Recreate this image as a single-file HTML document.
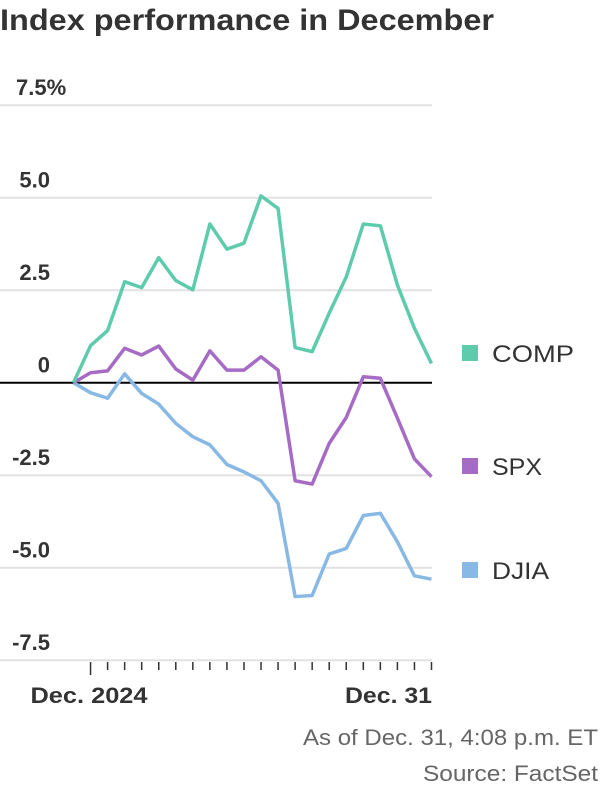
<!DOCTYPE html>
<html><head><meta charset="utf-8">
<style>
body{margin:0;background:#fff;font-family:"Liberation Sans",sans-serif;}
svg text{font-family:"Liberation Sans",sans-serif;}
</style></head>
<body>
<svg width="600" height="800">
<text x="0" y="30" font-size="30" font-weight="bold" fill="#333" textLength="494" lengthAdjust="spacingAndGlyphs">Index performance in December</text>
<g id="grid"></g>
<g id="lines"></g>
<g id="legend"></g>
<text x="89" y="703" font-size="22" font-weight="bold" fill="#333" text-anchor="middle" textLength="117" lengthAdjust="spacingAndGlyphs">Dec. 2024</text>
<text x="345" y="703" font-size="22" font-weight="bold" fill="#333" textLength="87" lengthAdjust="spacingAndGlyphs">Dec. 31</text>
<text x="303" y="745" font-size="22" fill="#666" textLength="295" lengthAdjust="spacingAndGlyphs">As of Dec. 31, 4:08 p.m. ET</text>
<text x="423" y="781" font-size="22" fill="#666" textLength="175" lengthAdjust="spacingAndGlyphs">Source: FactSet</text>
</svg>
<script>
const yTicks=[7.5,5,2.5,0,-2.5,-5,-7.5];
const yTickLabels=["7.5%","5.0","2.5","0","-2.5","-5.0","-7.5"];
const seriesNames=["COMP","SPX","DJIA"];
const comp=[0,1.0,1.41,2.73,2.57,3.38,2.76,2.51,4.29,3.61,3.77,5.05,4.71,0.95,0.84,1.88,2.86,4.29,4.24,2.64,1.47,0.52];
const spx=[0,0.27,0.32,0.93,0.75,0.99,0.37,0.07,0.86,0.34,0.34,0.70,0.34,-2.65,-2.74,-1.64,-0.94,0.16,0.12,-0.96,-2.06,-2.54];
const djia=[0,-0.27,-0.42,0.24,-0.29,-0.58,-1.10,-1.46,-1.68,-2.21,-2.41,-2.65,-3.26,-5.78,-5.75,-4.63,-4.48,-3.59,-3.53,-4.30,-5.22,-5.31];
const colors=["#5fcbad","#a66bc4","#88b9e5"];
const NS="http://www.w3.org/2000/svg";
const x0=73.5,x1=431.5,y0=382.7,pxPer=37;
const n=comp.length;
const xs=i=>x0+(x1-x0)*i/(n-1);
const ys=v=>y0-v*pxPer;
function mk(tag,attrs,parent){const e=document.createElementNS(NS,tag);for(const k in attrs)e.setAttribute(k,attrs[k]);parent.appendChild(e);return e;}
const grid=document.getElementById('grid');
yTicks.forEach((t,i)=>{
  const y=ys(t);
  const l=mk('line',{x1:0,x2:432,y1:y,y2:y,stroke:t===0?'#000':'#e2e2e2','stroke-width':2},grid);
  
  
  const attrs=t===7.5?{x:16,y:y-10}:{x:50,y:y-10,'text-anchor':'end'};
  attrs['font-size']=22;attrs['font-weight']='bold';attrs.fill='#333';
  const tx=mk('text',attrs,grid);
  tx.textContent=yTickLabels[i];
  
  
});
for(let i=1;i<n;i++){
  const tk=mk('line',{x1:xs(i),x2:xs(i),y1:662,y2:i===1?675:670,stroke:'#333','stroke-width':1.5},grid);
  
  
}
const lines=document.getElementById('lines');
[djia,spx,comp].forEach((arr,k)=>{
  const idx=2-k;
  const p=mk('polyline',{points:arr.map((v,i)=>xs(i)+','+ys(v)).join(' '),fill:'none',stroke:colors[idx],'stroke-width':3.5,'stroke-linejoin':'round'},lines);
  
  
});
const legend=document.getElementById('legend');
const legY=[353,466,570];
const legW=[82,50,57];
seriesNames.forEach((s,i)=>{
  const r=mk('rect',{x:462,y:legY[i]-8,width:16,height:16,fill:colors[i]},legend);
  
  
  const t=mk('text',{x:492,y:legY[i]+9,'font-size':24,fill:'#333',textLength:legW[i],lengthAdjust:'spacingAndGlyphs'},legend);
  t.textContent=s;
  
  
});
</script>
</body></html>
